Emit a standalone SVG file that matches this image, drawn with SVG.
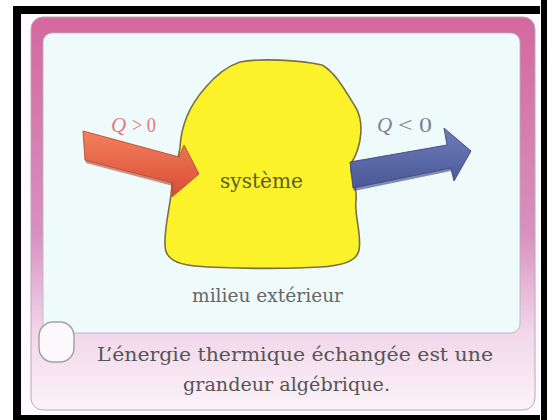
<svg xmlns="http://www.w3.org/2000/svg" width="547" height="420" viewBox="0 0 547 420">
  <defs>
    <linearGradient id="pinkFrame" x1="0" y1="0" x2="0" y2="1">
      <stop offset="0" stop-color="#d4689e"/>
      <stop offset="0.55" stop-color="#d890c0"/>
      <stop offset="0.8" stop-color="#f2d6ea"/>
      <stop offset="1" stop-color="#fbf3f8"/>
    </linearGradient>
    <linearGradient id="redFace" x1="0" y1="0" x2="0" y2="1">
      <stop offset="0" stop-color="#f2805c"/>
      <stop offset="1" stop-color="#d94c38"/>
    </linearGradient>
    <linearGradient id="blueFace" x1="0" y1="0" x2="0" y2="1">
      <stop offset="0" stop-color="#6e7cbc"/>
      <stop offset="1" stop-color="#4a5896"/>
    </linearGradient>
    <style>
      .serif { font-family: "DejaVu Serif", "Liberation Serif", serif; }
      .caption { fill: #555555; font-size: 19px; }
      .qlabel { font-size: 21px; font-family: "Liberation Serif", "DejaVu Serif", serif; }
      .qsym { font-style: italic; }
    </style>
  </defs>

  <!-- page background and black scan border -->
  <rect x="0" y="0" width="547" height="420" fill="#ffffff"/>
  <g id="border" fill="#000000">
    <rect x="13" y="6" width="527" height="8"/>
    <rect x="13" y="6" width="8" height="414"/>
    <rect x="13" y="415" width="527" height="5"/>
    <rect x="541" y="0" width="6" height="420"/>
  </g>
  <rect x="21" y="14" width="519" height="401" fill="#fdf9fc"/>

  <!-- card frame -->
  <g id="frame">
    <rect x="31" y="17" width="504" height="393" rx="12" fill="url(#pinkFrame)" stroke="#b4acb4" stroke-width="1"/>
    <rect x="43" y="33" width="477" height="300" rx="9" fill="#effafa" stroke="#b8b0bc" stroke-width="0.8"/>
    <rect x="39" y="322" width="35" height="40" rx="14" fill="#fdf8fc" stroke="#a8a0a8" stroke-width="1.5"/>
  </g>

  <!-- system -->
  <g id="systeme">
    <path d="M 240 62 C 260 58, 300 60, 322 65 C 335 72, 345 90, 356 108 C 364 122, 362 145, 352 162 C 348 175, 358 185, 356 200 C 354 215, 362 235, 359 250 C 357 262, 340 266, 320 267 C 290 269, 230 269, 195 266 C 175 264, 165 258, 165 245 C 164 225, 172 200, 172 183 C 174 170, 178 160, 180 148 C 181 125, 190 105, 205 88 C 215 76, 228 66, 240 62 Z" fill="#fbf22a" stroke="#7a7044" stroke-width="1.6"/>
    <text class="serif" x="220" y="188" font-size="20" fill="#5c5a30" textLength="83" lengthAdjust="spacingAndGlyphs">système</text>
  </g>

  <!-- heat flows -->
  <g id="connectors">
    <g id="flow-in">
      <polygon points="83,131 179,157 184,145 199,174 172,197 173,183 85,160" fill="url(#redFace)" stroke="#b84a34" stroke-width="0.9" stroke-linejoin="round"/>
      <polygon points="85,160 173,183 172,197 173,186 86,163" fill="#b8432e" opacity="0.6"/>
    </g>
    <g id="flow-out">
      <polygon points="350,162 447,145 444,128 471,151 454,181 451,168 353,188" fill="url(#blueFace)" stroke="#3a4680" stroke-width="0.9" stroke-linejoin="round"/>
      <polygon points="353,188 451,168 454,181 451,171 354,191" fill="#364378" opacity="0.6"/>
    </g>
  </g>

  <g id="labels">
    <g id="label-in" fill="#e27a7c">
      <text class="qlabel qsym" x="111" y="132">Q</text>
      <text class="qlabel" x="132" y="132" textLength="24" lengthAdjust="spacingAndGlyphs">&gt; 0</text>
    </g>
    <g id="label-out" fill="#7a8298">
      <text class="qlabel qsym" x="377" y="132">Q</text>
      <text class="qlabel" x="398" y="132" textLength="34" lengthAdjust="spacingAndGlyphs">&lt; 0</text>
    </g>
    <text id="milieu" class="serif" x="192" y="302" font-size="19" fill="#666666" textLength="151" lengthAdjust="spacingAndGlyphs">milieu extérieur</text>
  </g>

  <g id="caption">
    <text class="serif caption" x="97" y="361" textLength="396" lengthAdjust="spacingAndGlyphs">L’énergie thermique échangée est une</text>
    <text class="serif caption" x="183" y="391" textLength="207" lengthAdjust="spacingAndGlyphs">grandeur algébrique.</text>
  </g>
</svg>
